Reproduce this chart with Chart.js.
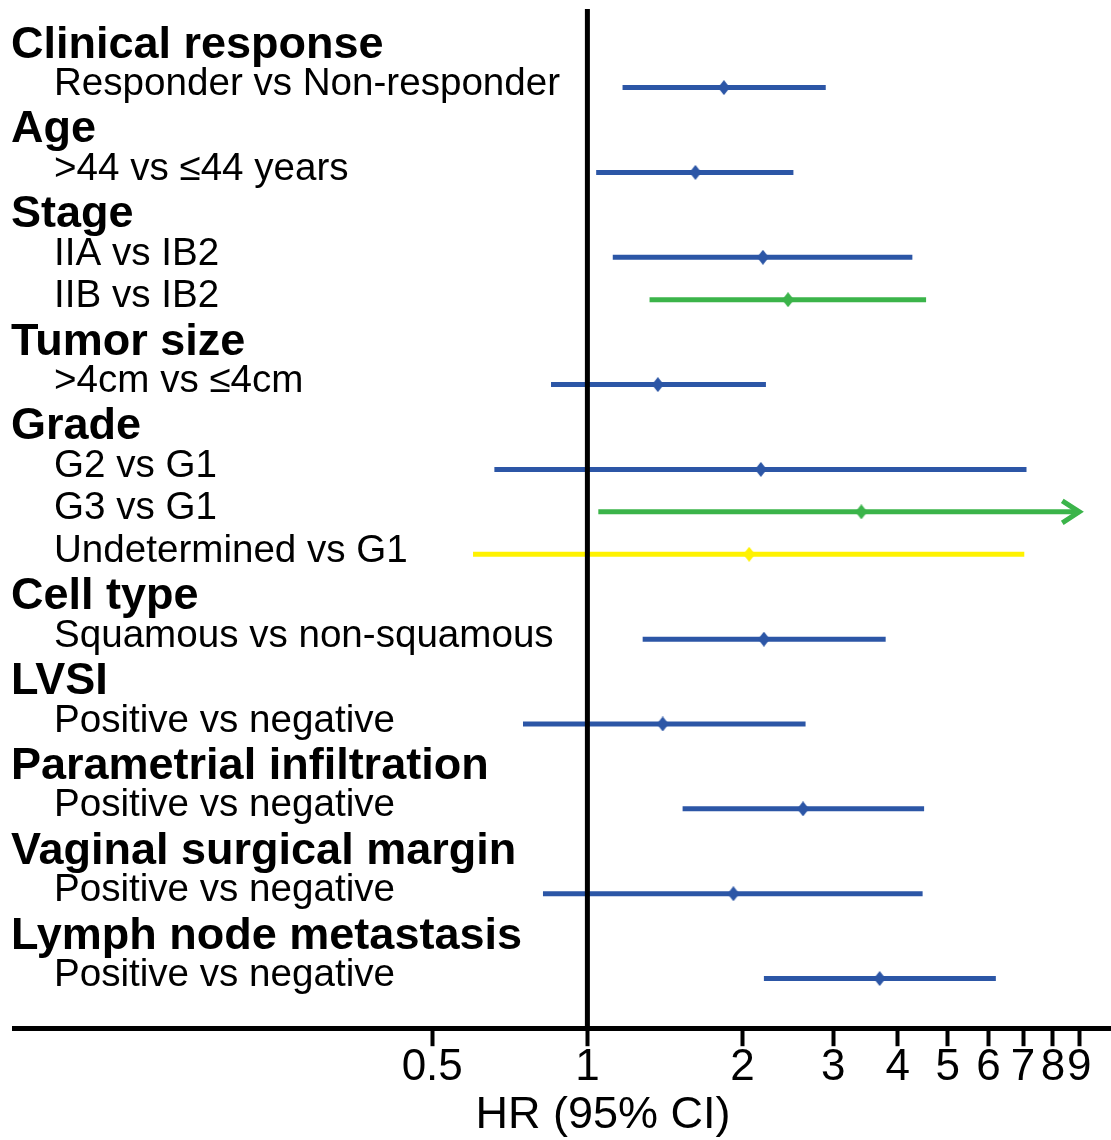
<!DOCTYPE html>
<html>
<head>
<meta charset="utf-8">
<script src="https://cdn.jsdelivr.net/npm/chart.js@4.4.1/dist/chart.umd.min.js"></script>
<style>
  html, body { margin: 0; padding: 0; background: #ffffff; overflow: hidden; }
  canvas { display: block; }
</style>
</head>
<body>
<canvas id="chart" width="1111" height="1140"></canvas>
<script>
// ---------------- data ----------------
const groupNames = [
  'Clinical response', 'Age', 'Stage', 'Tumor size', 'Grade', 'Cell type',
  'LVSI', 'Parametrial infiltration', 'Vaginal surgical margin', 'Lymph node metastasis'
];
const comparisons = [
  'Responder vs Non-responder', '>44 vs \u226444 years', 'IIA vs IB2', 'IIB vs IB2',
  '>4cm vs \u22644cm', 'G2 vs G1', 'G3 vs G1', 'Undetermined vs G1',
  'Squamous vs non-squamous', 'Positive vs negative', 'Positive vs negative',
  'Positive vs negative', 'Positive vs negative'
];
const comparisonGroup = [0, 1, 2, 2, 3, 4, 4, 4, 5, 6, 7, 8, 9];
const hazardRatio = [1.84, 1.62, 2.19, 2.45, 1.37, 2.17, 3.40, 2.06, 2.20, 1.40, 2.62, 1.92, 3.69];
const ciLower     = [1.17, 1.04, 1.12, 1.32, 0.85, 0.66, 1.05, 0.60, 1.28, 0.75, 1.53, 0.82, 2.20];
const ciUpper     = [2.90, 2.51, 4.27, 4.54, 2.22, 7.11, 9.00, 7.04, 3.79, 2.65, 4.50, 4.47, 6.20];
const ciUpperBeyondAxis = [false, false, false, false, false, false, true, false, false, false, false, false, false];
const seriesKey = ['blue', 'blue', 'blue', 'green', 'blue', 'blue', 'green', 'yellow', 'blue', 'blue', 'blue', 'blue', 'blue'];
const xTickValues = [0.5, 1, 2, 3, 4, 5, 6, 7, 8, 9];
const axisTitle = 'HR (95% CI)';
const referenceHR = 1;

// ---------------- styles ----------------
const COLORS = { blue: '#2C56A6', green: '#3BB44A', yellow: '#FFF200' };
const FONT = '"Liberation Sans", Arial, Helvetica, sans-serif';

// rows: header row followed by its comparison rows
const rows = [];
groupNames.forEach((g, gi) => {
  rows.push({ label: g, header: true });
  comparisons.forEach((c, ci) => {
    if (comparisonGroup[ci] === gi) rows.push({ label: c, header: false, comp: ci });
  });
});
const compRow = {};
rows.forEach((r, i) => { if (!r.header) compRow[r.comp] = i; });

function diamondImage(color) {
  const c = document.createElement('canvas');
  c.width = 12; c.height = 15;
  const g = c.getContext('2d');
  g.fillStyle = color;
  g.beginPath();
  g.moveTo(6, 0); g.lineTo(12, 7.5); g.lineTo(6, 15); g.lineTo(0, 7.5);
  g.closePath(); g.fill();
  return c;
}
const diamonds = {};
Object.keys(COLORS).forEach(k => { diamonds[k] = diamondImage(COLORS[k]); });

const ciDatasets = comparisons.map((c, i) => ({
  label: c,
  data: [{ x: ciLower[i], y: compRow[i] }, { x: ciUpper[i], y: compRow[i] }],
  showLine: true,
  borderColor: COLORS[seriesKey[i]],
  backgroundColor: COLORS[seriesKey[i]],
  borderWidth: 5,
  borderCapStyle: 'butt',
  pointRadius: 0,
  order: 2
}));
const pointDataset = {
  label: 'HR',
  data: comparisons.map((c, i) => ({ x: hazardRatio[i], y: compRow[i] })),
  pointStyle: comparisons.map((c, i) => diamonds[seriesKey[i]]),
  pointRadius: 7,
  showLine: false,
  order: 1
};

const annotate = {
  id: 'annotate',
  afterDatasetsDraw(chart) {
    const { ctx, chartArea: a, scales: { x, y } } = chart;
    comparisons.forEach((c, i) => {
      if (!ciUpperBeyondAxis[i]) return;
      const px = x.getPixelForValue(ciUpper[i]);
      const py = y.getPixelForValue(compRow[i]);
      ctx.save();
      ctx.strokeStyle = COLORS[seriesKey[i]];
      ctx.lineWidth = 5;
      ctx.lineJoin = 'miter';
      ctx.beginPath();
      ctx.moveTo(px - 17, py - 11);
      ctx.lineTo(px, py);
      ctx.lineTo(px - 17, py + 11);
      ctx.stroke();
      ctx.restore();
    });
    const rx = x.getPixelForValue(referenceHR);
    ctx.save();
    ctx.strokeStyle = '#000';
    ctx.lineWidth = 5;
    ctx.beginPath();
    ctx.moveTo(rx, a.top);
    ctx.lineTo(rx, a.bottom);
    ctx.stroke();
    ctx.restore();
  },
  afterDraw(chart) {
    const { ctx, scales: { y } } = chart;
    ctx.save();
    ctx.fillStyle = '#000';
    ctx.textAlign = 'left';
    ctx.textBaseline = 'middle';
    rows.forEach((r, i) => {
      const py = y.getPixelForValue(i);
      if (r.header) {
        ctx.font = 'bold 45px ' + FONT;
        ctx.fillText(r.label, 11, py);
      } else {
        ctx.font = '38.6px ' + FONT;
        ctx.fillText(r.label, 54, py - 3);
      }
    });
    ctx.font = '45px ' + FONT;
    ctx.textAlign = 'center';
    ctx.fillText(axisTitle, 603, 1116);
    ctx.restore();
  }
};

new Chart(document.getElementById('chart'), {
  type: 'scatter',
  data: { datasets: [pointDataset, ...ciDatasets] },
  options: {
    responsive: false,
    maintainAspectRatio: false,
    devicePixelRatio: 1,
    animation: false,
    layout: { autoPadding: false, padding: { left: 14, right: 0, top: 9, bottom: 51 } },
    plugins: { legend: { display: false }, tooltip: { enabled: false } },
    scales: {
      x: {
        type: 'logarithmic',
        min: 0.0772,
        max: 10.37,
        afterBuildTicks: (s) => { s.ticks = xTickValues.map(v => ({ value: v })); },
        afterFit: (s) => { s.paddingLeft = 0; s.paddingRight = 0; },
        ticks: {
          autoSkip: false,
          maxRotation: 0,
          padding: -5,
          color: '#000',
          font: { size: 44, family: FONT },
          callback: (v) => String(v)
        },
        grid: { drawOnChartArea: false, tickLength: 18, tickWidth: 4, tickColor: '#000' },
        border: { display: true, width: 5, color: '#000' }
      },
      y: {
        type: 'linear',
        reverse: true,
        min: -0.852,
        max: 23.17,
        display: false
      }
    }
  },
  plugins: [annotate]
});
</script>
</body>
</html>
